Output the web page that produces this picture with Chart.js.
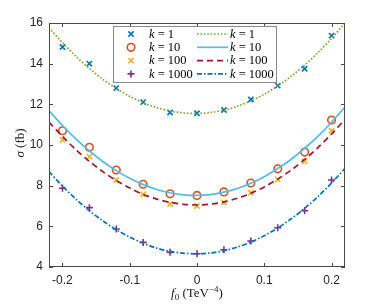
<!DOCTYPE html>
<html lang="en">
<head>
<meta charset="UTF-8">
<title>sigma vs f0</title>
<script src="https://cdn.jsdelivr.net/npm/chart.js"></script>
<style>
  html, body { margin: 0; padding: 0; background: #fff; }
</style>
</head>
<body>
<canvas id="c" width="381" height="305"></canvas>
<script>
// simulated points
const xPts = [-0.2, -0.16, -0.12, -0.08, -0.04, 0, 0.04, 0.08, 0.12, 0.16, 0.2];
const k1Pts    = [14.82, 14.0, 12.8, 12.11, 11.6, 11.56, 11.72, 12.24, 12.92, 13.75, 15.38];
const k10Pts   = [10.7, 9.89, 8.77, 8.07, 7.6, 7.52, 7.69, 8.13, 8.83, 9.65, 11.23];
const k100Pts  = [10.25, 9.43, 8.28, 7.57, 7.1, 7.0, 7.18, 7.65, 8.31, 9.21, 10.7];
const k1000Pts = [7.87, 6.92, 5.87, 5.21, 4.72, 4.65, 4.85, 5.28, 5.93, 6.77, 8.28];

// fitted curves
const xFit = [-0.22, -0.2, -0.18, -0.16, -0.14, -0.12, -0.1, -0.08, -0.06, -0.04, -0.02, 0,
              0.02, 0.04, 0.06, 0.08, 0.1, 0.12, 0.14, 0.16, 0.18, 0.2, 0.22];
const k1Fit    = [15.77, 15.03, 14.36, 13.76, 13.23, 12.78, 12.39, 12.08, 11.84, 11.67, 11.58, 11.55,
                  11.60, 11.71, 11.90, 12.17, 12.50, 12.90, 13.38, 13.93, 14.55, 15.24, 16.0];
const k10Fit   = [11.69, 10.96, 10.30, 9.71, 9.19, 8.74, 8.36, 8.05, 7.81, 7.65, 7.55, 7.52,
                  7.56, 7.68, 7.86, 8.12, 8.44, 8.84, 9.30, 9.84, 10.44, 11.12, 11.87];
const k100Fit  = [11.13, 10.42, 9.77, 9.20, 8.69, 8.25, 7.88, 7.57, 7.34, 7.18, 7.08, 7.05,
                  7.09, 7.20, 7.38, 7.62, 7.94, 8.32, 8.77, 9.29, 9.88, 10.54, 11.26];
const k1000Fit = [8.69, 7.98, 7.34, 6.77, 6.27, 5.83, 5.47, 5.17, 4.93, 4.77, 4.68, 4.65,
                  4.69, 4.80, 4.98, 5.22, 5.54, 5.92, 6.37, 6.89, 7.47, 8.13, 8.85];

const kNames = ['1', '10', '100', '1000'];
const xTicks = [-0.2, -0.1, 0, 0.1, 0.2];
const yTicks = [4, 6, 8, 10, 12, 14, 16];

const pts = (ys) => ys.map((v, i) => ({x: xPts[i], y: v}));
const fit = (ys) => ys.map((v, i) => ({x: xFit[i], y: v}));

const markers = [
  {style: 'crossRot', color: '#0072BD', r: 3.7},
  {style: 'circle',   color: '#D95319', r: 3.8},
  {style: 'crossRot', color: '#EDB120', r: 3.7},
  {style: 'cross',    color: '#7E2F8E', r: 3.5}
];
const lines = [
  {color: '#77AC30', dash: [1.6, 1.8]},
  {color: '#4DBEEE', dash: []},
  {color: '#A2142F', dash: [6, 4]},
  {color: '#0072BD', dash: [5, 2, 1.5, 2]}
];
const ptSeries = [k1Pts, k10Pts, k100Pts, k1000Pts];
const fitSeries = [k1Fit, k10Fit, k100Fit, k1000Fit];

const datasets = [];
fitSeries.forEach((ys, i) => datasets.push({
  data: fit(ys), showLine: true, pointRadius: 0, borderColor: lines[i].color,
  borderWidth: 1.7, borderDash: lines[i].dash, fill: false, tension: 0.3
}));
ptSeries.forEach((ys, i) => datasets.push({
  data: pts(ys), showLine: false, pointStyle: markers[i].style, pointRadius: markers[i].r,
  pointBorderColor: markers[i].color, pointBackgroundColor: 'rgba(0,0,0,0)', pointBorderWidth: 1.6
}));

function drawMarker(ctx, m, x, y) {
  ctx.save();
  ctx.strokeStyle = m.color; ctx.lineWidth = 1.6;
  ctx.beginPath();
  if (m.style === 'circle') {
    ctx.arc(x, y, m.r, 0, Math.PI * 2);
  } else if (m.style === 'cross') {
    ctx.moveTo(x - m.r, y); ctx.lineTo(x + m.r, y);
    ctx.moveTo(x, y - m.r); ctx.lineTo(x, y + m.r);
  } else {
    const d = m.r * Math.SQRT1_2;
    ctx.moveTo(x - d, y - d); ctx.lineTo(x + d, y + d);
    ctx.moveTo(x - d, y + d); ctx.lineTo(x + d, y - d);
  }
  ctx.stroke();
  ctx.restore();
}

// draw text runs: [text, font, dy]
function runs(ctx, parts, x, y, align) {
  let w = 0;
  parts.forEach(p => { ctx.font = p[1]; w += ctx.measureText(p[0]).width; });
  let cx = align === 'center' ? x - w / 2 : x;
  ctx.textAlign = 'left';
  parts.forEach(p => {
    ctx.font = p[1];
    ctx.fillText(p[0], cx, y + (p[2] || 0));
    cx += ctx.measureText(p[0]).width;
  });
}

const SERIF = '"Liberation Serif", "DejaVu Serif", serif';

const decor = {
  id: 'decor',
  afterDatasetsDraw(chart) {
    const {ctx, chartArea: a, scales: {x, y}} = chart;
    ctx.save();
    // axes box and inward ticks
    ctx.strokeStyle = '#4a4a4a';
    ctx.lineWidth = 1;
    ctx.strokeRect(a.left + 0.5, a.top + 0.5, a.right - a.left - 1, a.bottom - a.top - 1);
    ctx.beginPath();
    xTicks.forEach(v => {
      const px = Math.round(x.getPixelForValue(v)) + 0.5;
      ctx.moveTo(px, a.bottom); ctx.lineTo(px, a.bottom - 4);
      ctx.moveTo(px, a.top); ctx.lineTo(px, a.top + 4);
    });
    yTicks.forEach(v => {
      const py = Math.round(y.getPixelForValue(v)) + 0.5;
      ctx.moveTo(a.left, py); ctx.lineTo(a.left + 4, py);
      ctx.moveTo(a.right, py); ctx.lineTo(a.right - 4, py);
    });
    ctx.stroke();

    // legend
    const L = {x: 113, y: 26, w: 163, h: 56};
    ctx.fillStyle = '#fff';
    ctx.fillRect(L.x, L.y, L.w, L.h);
    ctx.strokeStyle = '#8a8a8a';
    ctx.strokeRect(L.x + 0.5, L.y + 0.5, L.w, L.h);
    ctx.fillStyle = '#000';
    ctx.textBaseline = 'middle';
    kNames.forEach((k, i) => {
      const ry = 34 + i * 13.3;
      drawMarker(ctx, markers[i], 131, ry);
      runs(ctx, [['k', 'italic 12.5px ' + SERIF], [' = ' + k, '12.5px ' + SERIF]], 149, ry + 0.5, 'left');
      ctx.save();
      ctx.strokeStyle = lines[i].color;
      ctx.lineWidth = 1.7;
      ctx.setLineDash(lines[i].dash);
      ctx.beginPath(); ctx.moveTo(197, ry); ctx.lineTo(228, ry); ctx.stroke();
      ctx.restore();
      runs(ctx, [['k', 'italic 12.5px ' + SERIF], [' = ' + k, '12.5px ' + SERIF]], 230, ry + 0.5, 'left');
    });

    // axis titles
    ctx.fillStyle = '#1a1a1a';
    ctx.textBaseline = 'alphabetic';
    runs(ctx, [['f', 'italic 13px ' + SERIF], ['0', '9px ' + SERIF, 3],
               [' (TeV', '13px ' + SERIF], ['\u22124', '9px ' + SERIF, -5], [')', '13px ' + SERIF]],
         (a.left + a.right) / 2, 297, 'center');
    ctx.save();
    ctx.translate(24, (a.top + a.bottom) / 2 - 2);
    ctx.rotate(-Math.PI / 2);
    runs(ctx, [['\u03c3', 'italic 13px ' + SERIF], [' (fb)', '13px ' + SERIF]], 0, 0, 'center');
    ctx.restore();
    ctx.restore();
  }
};

new Chart(document.getElementById('c'), {
  type: 'scatter',
  data: {datasets},
  plugins: [decor],
  options: {
    responsive: false,
    animation: false,
    devicePixelRatio: 1,
    layout: {padding: {left: 0, top: 23, right: 36, bottom: 0}},
    plugins: {legend: {display: false}, tooltip: {enabled: false}},
    scales: {
      x: {
        type: 'linear', min: -0.22, max: 0.22,
        grid: {display: false, drawTicks: false}, border: {display: false},
        afterBuildTicks: s => { s.ticks = xTicks.map(v => ({value: v})); },
        afterFit: s => { s.height = 38; },
        ticks: {padding: 6, color: '#262626', font: {family: '"Liberation Sans", Arial', size: 12},
                maxRotation: 0, callback: v => String(v)}
      },
      y: {
        min: 4, max: 16,
        grid: {display: false, drawTicks: false}, border: {display: false},
        afterBuildTicks: s => { s.ticks = yTicks.map(v => ({value: v})); },
        afterFit: s => { s.width = 49; },
        ticks: {padding: 6, color: '#262626', font: {family: '"Liberation Sans", Arial', size: 12},
                callback: v => String(v)}
      }
    }
  }
});
</script>
</body>
</html>
